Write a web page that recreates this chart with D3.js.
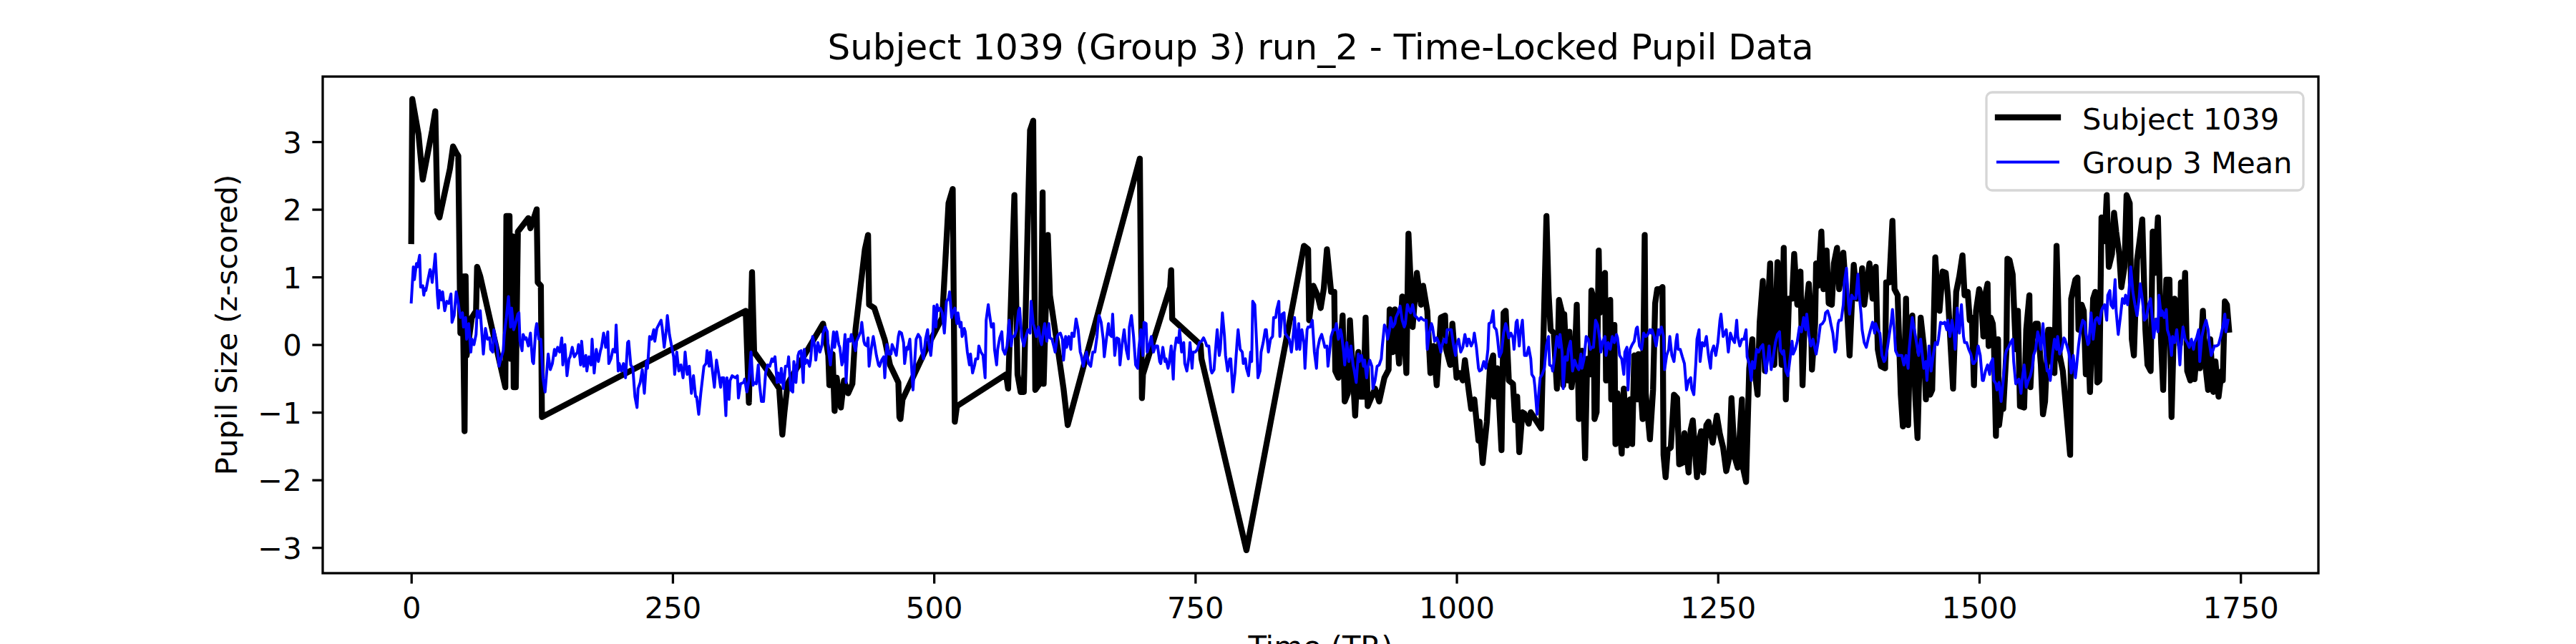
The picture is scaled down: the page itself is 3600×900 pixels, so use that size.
<html>
<head>
    <meta charset="utf-8">
    <style>
        body {
            margin: 0;
            background-color: #fff;
        }
        svg {
            display: block;
            background-color: #fff;
        }
        text {
            font-family: "DejaVu Sans";
        }
    </style>
    <script src="https://d3js.org/d3.v7.min.js"></script>
</head>
<body>

<div id="chart"></div>

<script>
    // tick values
    var xTicks = [0, 250, 500, 750, 1000, 1250, 1500, 1750];
    var yTicks = [-3, -2, -1, 0, 1, 2, 3];

    var titleText = "Subject 1039 (Group 3) run_2 - Time-Locked Pupil Data";
    var seriesNames = ["Subject 1039", "Group 3 Mean"];

    // subject trace, [TR, z]
    var subjectPoints = [
        [0,1.53],[1,3.63],[7,3.10],[11,2.44],[20,3.17],[23,3.45],[25,1.95],[27,1.88],[37,2.60],[40,2.93],[43,2.84],[45,2.79],
        [47,0.17],[49,1.01],[51,-1.28],[52,1.01],[53,-0.16],[58,0.40],[62,0.50],[63,1.15],[66,1.01],[90,-0.63],[91,1.90],
        [94,1.90],[95,-0.21],[97,1.60],[98,-0.63],[100,-0.63],[102,1.67],[112,1.87],[114,1.72],[117,1.86],[120,2.00],[121,0.92],
        [124,0.87],[125,-1.07],
        [320,0.50],[323,-0.86],[326,1.07],[328,-0.11],[341,-0.39],[352,-0.65],[355,-1.33],[357,-1.00],[360,-0.58],[392,0.26],
        [394,0.31],[399,-0.16],[400,-0.60],[403,-0.14],[405,-0.98],[407,-0.49],[411,-0.93],[414,-0.53],[418,-0.72],[422,-0.58],
        [425,0.22],[434,1.41],[437,1.62],[438,0.59],[443,0.54],[453,0.07],[458,-0.30],[466,-0.56],[467,-1.07],[468,-1.10],
        [470,-0.81],[494,-0.02],[508,0.40],[514,2.09],[518,2.30],[520,-1.14],[522,-0.91],[569,-0.44],[571,-0.65],[577,2.21],
        [580,-0.44],[583,-0.70],[586,-0.70],[590,1.95],[592,3.17],[595,3.31],[597,-0.67],[602,-0.56],[604,2.25],[605,-0.58],
        [609,1.62],[611,0.73],[619,-0.11],[624,-0.65],[628,-1.19],
        [697,2.75],[699,-0.79],[700,-0.44],[726,0.85],[727,1.10],[728,0.38],[755,0.00],[756,-0.21],[799,-3.04],[854,1.46],
        [858,1.41],[859,0.36],[863,0.87],[867,0.73],[870,0.54],[873,0.83],[876,1.41],[880,0.78],[883,0.78],[884,-0.39],
        [887,-0.49],[891,0.43],[893,-0.84],[896,-0.72],[898,0.36],[903,-1.05],[906,-0.11],[908,-0.77],[911,-0.77],[913,0.40],
        [915,-0.91],[922,-0.65],[926,-0.84],[931,-0.49],[935,-0.37],[936,0.52],[939,-0.11],[941,0.52],[945,-0.28],[948,0.71],
        [952,-0.42],[954,1.64],[958,0.26],[962,1.06],[966,0.59],[968,0.87],[972,0.50],[975,-0.42],[978,-0.02],[981,-0.60],
        [985,0.40],[989,0.43],[990,-0.07],[994,-0.30],[996,0.31],[1000,-0.49],[1003,-0.42],[1006,-0.53],[1008,-0.23],[1012,-0.72],
        [1014,-0.95],[1017,-0.81],[1021,-1.42],[1022,-1.14],[1025,-1.75],[1029,-1.14],[1032,-0.32],[1035,-0.16],[1036,-0.77],
        [1039,-0.35],[1043,-1.56],[1045,0.47],[1047,0.50],[1050,-0.53],[1054,-0.58],[1056,-1.12],[1058,-0.77],[1060,-1.59],
        [1063,-1.00],
        [1065,-1.02],[1069,-1.17],[1071,-1.00],[1076,-1.12],[1081,-1.24],[1086,1.90],[1088,0.78],[1090,0.22],[1093,0.17],
        [1096,-0.65],[1098,0.66],[1101,0.47],[1102,-0.60],[1103,0.45],[1106,-0.53],[1108,0.19],[1110,-0.63],[1113,-0.25],
        [1115,0.59],[1117,-1.10],[1119,-0.21],[1120,-0.09],[1123,-1.68],[1125,-0.21],[1128,-0.44],[1129,0.80],[1131,0.68],
        [1132,-1.10],[1134,-1.00],[1136,1.39],[1137,0.47],[1140,1.01],[1142,1.06],[1143,-0.53],[1147,0.66],[1148,-0.81],
        [1151,0.29],[1152,-1.47],[1154,-0.72],[1158,-1.61],[1160,-0.65],[1163,-1.49],[1166,-0.81],[1168,-1.47],[1170,-0.16],
        [1173,-0.81],[1174,-0.14],[1178,-1.10],[1180,1.62],[1181,-0.72],[1185,-1.40],[1188,-0.67],[1190,0.61],[1192,0.82],
        [1195,0.82],[1197,0.85],[1198,-1.63],[1200,-1.96],[1202,-1.56],[1205,-1.52],[1208,-0.74],[1211,-0.79],[1213,-1.77],
        [1216,-1.75],[1218,-1.31],[1222,-1.89],[1224,-1.26],[1226,-1.12],[1230,-1.96],[1232,-1.42],[1234,-1.28],[1236,-1.89],
        [1239,-1.19],[1241,-1.14],[1245,-1.45],[1249,-1.05],[1252,-1.33],[1255,-1.52],[1258,-1.87],[1261,-1.66],[1263,-0.79],
        [1266,-1.66],[1269,-1.82],[1273,-0.81],[1274,-1.82],[1277,-2.03],[1280,-0.35],[1283,0.08],[1284,-0.35],[1286,-0.49],
        [1288,-0.74],[1290,0.33],[1293,0.94],[1295,-0.39],[1297,0.31],[1300,1.20],[1302,-0.21],[1304,-0.30],[1307,1.22],
        [1309,0.45],[1311,-0.30],[1313,1.43],[1315,-0.81],[1318,0.68],[1321,0.68],[1323,1.34],[1326,0.59],[1329,1.08],
        [1331,-0.60],[1333,0.36],[1337,0.90],[1339,0.45],[1340,-0.37],[1343,0.31],[1344,1.20],[1346,0.87],[1349,1.67],
        [1351,0.82],[1354,1.39],[1356,0.61],[1359,0.59],[1361,1.20],[1364,1.43],[1366,0.82],[1370,1.36],[1373,0.68],
        [1376,-0.16],[1378,0.54],[1380,1.18],[1383,0.68],[1386,0.73],[1388,1.13],[1390,0.59],[1395,1.20],[1398,0.68],
        [1401,1.15],[1403,-0.07],[1406,-0.32],[1410,-0.35],[1411,0.92],[1414,0.92],[1417,1.83],[1419,0.82],[1422,0.73],
        [1425,-0.74],[1427,-1.21],[1430,0.68],[1432,-1.19],[1434,0.17],[1436,0.43],[1439,-0.81],[1441,-1.38],[1444,0.40],
        [1447,-0.02],
        [1449,-0.81],[1451,-0.25],[1453,-0.74],[1455,-0.67],[1458,1.29],[1460,0.78],[1462,0.50],[1465,1.08],[1468,1.06],
        [1470,0.73],[1473,-0.11],[1475,-0.65],[1478,0.78],[1481,1.01],[1484,1.32],[1486,0.73],[1489,0.78],[1491,0.36],
        [1493,0.40],[1495,-0.60],[1497,0.50],[1500,0.82],[1502,0.68],[1504,0.12],[1505,0.68],[1508,0.90],[1509,-0.02],
        [1511,0.40],[1513,0.31],[1514,0.08],[1516,-1.35],[1518,0.08],[1519,-1.19],[1521,-0.93],[1523,-0.95],[1526,-0.11],
        [1527,1.27],[1529,1.25],[1532,1.04],[1535,-0.07],[1537,0.50],[1539,-0.91],[1543,-0.93],[1545,0.22],[1548,0.73],
        [1549,-0.63],[1551,0.08],[1554,0.31],[1556,0.31],[1559,-0.30],[1561,-1.03],[1563,-0.84],[1566,0.22],[1568,0.22],
        [1570,-0.25],[1572,-0.42],[1574,1.46],[1577,-0.16],[1580,-0.39],[1587,-1.63],[1588,0.68],[1592,0.96],[1594,0.99],
        [1595,0.22],[1598,0.59],[1600,0.50],[1602,-0.44],[1604,0.08],[1606,-0.70],[1609,0.68],[1611,0.78],[1613,-0.56],
        [1615,-0.53],[1617,1.88],[1620,1.53],[1622,2.21],[1624,1.15],[1627,1.34],[1629,1.95],[1631,1.67],[1634,1.34],
        [1636,0.85],[1639,1.15],[1641,2.21],[1644,2.09],[1646,0.08],[1648,-0.16],[1651,1.25],[1653,1.48],[1656,1.85],
        [1659,0.22],[1661,-0.30],[1664,-0.39],[1666,1.67],[1668,1.06],[1671,1.88],[1674,0.03],[1676,-0.67],[1679,0.96],
        [1682,0.96],[1684,-1.07],[1687,0.68],[1689,0.59],[1692,0.00],[1693,0.92],[1695,0.36],[1697,1.06],[1699,-0.39],
        [1702,-0.53],[1704,-0.02],[1706,-0.51],[1709,0.05],[1711,-0.35],[1714,0.50],[1716,-0.25],[1719,-0.67],[1721,0.08],
        [1724,-0.70],[1726,-0.25],[1729,-0.77],[1732,-0.39],[1733,-0.53],[1735,0.64],[1737,0.59],[1739,0.22]
    ];

    // group mean trace, [TR, z]
    var groupPoints = [
        [0,0.63],[2,1.15],[3,0.96],[5,1.20],[6,1.15],[8,1.32],[9,0.85],[11,0.87],[12,0.73],[13,0.83],[14,0.80],[16,0.96],
        [18,1.11],[19,1.06],[20,0.92],[22,1.18],[23,1.34],[25,0.73],[26,0.54],[27,0.80],[29,0.66],[30,0.78],[32,0.50],
        [34,0.64],[36,0.61],[38,0.75],[39,0.33],[41,0.43],[43,0.78],[45,0.61],[47,0.40],[49,0.47],[50,0.26],[52,0.40],
        [53,0.08],[55,0.31],[57,-0.11],[58,0.08],[60,0.00],[62,0.15],[63,0.50],[65,0.40],[66,0.50],[68,0.08],[69,-0.14],
        [71,0.24],[73,0.08],[75,0.10],[76,-0.07],[78,-0.11],[79,0.22],[82,-0.02],[84,-0.32],[85,-0.25],[88,-0.09],[89,0.15],
        [91,0.40],[93,0.71],[95,0.26],[96,0.54],[98,0.22],[100,0.33],[102,0.45],[103,0.47],[104,0.05],[106,-0.09],[107,0.15],
        [109,0.08],[110,0.10],[112,-0.02],[114,0.17],[116,-0.25],[117,-0.28],[119,0.22],[120,0.31],[122,0.08],[124,0.08],
        [126,-0.49],[128,-0.70],[131,-0.14],[133,-0.37],[135,-0.28],[137,-0.07],[138,-0.16],[140,-0.04],[142,-0.11],[144,0.10],
        [145,-0.30],[147,0.00],[149,-0.46],[151,-0.21],[152,-0.18],[154,-0.04],[156,-0.18],[159,-0.11],[160,0.00],[162,-0.30],
        [163,0.05],[165,-0.32],[167,-0.16],[168,-0.39],[170,-0.18],[172,-0.30],[173,0.08],[175,-0.42],[177,-0.07],[179,-0.25],
        [181,-0.09],[182,-0.04],[184,0.17],[186,-0.04],[188,0.19],[189,-0.28],[191,-0.21],[193,-0.07],[195,-0.11],[196,0.29],
        [198,-0.39],[199,-0.28],[201,-0.39],[203,-0.28],[205,-0.49],[207,0.03],[208,0.05],[210,-0.30],[212,-0.35],[214,-0.77],
        [216,-0.93],[217,-0.65],[219,-0.56],[221,-0.37],[223,-0.72],[225,-0.25],[226,-0.35],[228,0.12],[230,0.08],[232,0.22],
        [233,0.05],[235,0.24],[238,0.33],[239,0.36],[240,0.26],[242,-0.04],[244,0.22],[245,0.43],[247,0.15],[249,-0.02],
        [251,-0.18],[252,-0.44],[254,-0.11],[256,-0.39],[258,-0.30],[260,-0.49],[261,-0.35],[262,-0.11],[264,-0.44],[266,-0.32],
        [268,-0.72],[270,-0.46],[272,-0.77],[273,-0.77],[275,-1.03],[277,-0.72],[280,-0.32],[282,-0.28],[283,-0.09],[285,-0.32],
        [286,-0.11],[288,-0.37],[290,-0.63],[292,-0.23],[294,-0.42],[296,-0.63],[297,-0.49],
        [299,-0.49],[301,-1.05],[302,-0.49],[304,-0.81],[305,-0.53],[307,-0.46],[310,-0.49],[312,-0.46],[313,-0.79],[315,-0.58],
        [318,-0.56],[319,-0.51],[321,-0.70],[323,-0.53],[325,-0.11],[327,-0.60],[328,-0.56],[330,-0.58],[332,-0.30],[333,-0.56],
        [335,-0.84],[337,-0.84],[339,-0.42],[341,-0.30],[343,-0.32],[345,-0.21],[346,-0.25],[348,-0.18],[350,-0.56],[351,-0.42],
        [353,-0.56],[354,-0.35],[356,-0.65],[358,-0.32],[360,-0.32],[361,-0.18],[363,-0.67],[365,-0.70],[366,-0.25],[368,-0.56],
        [370,-0.16],[371,-0.11],[373,-0.09],[375,-0.56],[376,-0.07],[377,-0.28],[379,-0.23],[381,-0.32],[382,-0.23],[384,0.12],
        [386,-0.02],[387,-0.23],[389,0.03],[391,-0.11],[393,0.00],[394,0.17],[396,0.26],[398,0.19],[399,-0.07],[401,-0.30],
        [403,0.05],[404,0.19],[405,-0.04],[407,0.19],[409,0.00],[410,-0.04],[412,-0.30],[413,-0.25],[415,0.15],[416,-0.56],
        [418,0.08],[420,0.05],[421,0.15],[423,0.03],[425,-0.09],[426,0.05],[428,0.12],[430,0.19],[431,0.33],[433,0.05],
        [434,0.00],[436,-0.02],[437,0.10],[438,-0.32],[440,-0.07],[442,0.12],[443,0.03],[445,-0.16],[447,-0.30],[448,-0.32],
        [450,-0.23],[452,-0.18],[453,-0.49],[455,0.00],[457,-0.14],[459,-0.14],[460,0.00],[462,-0.07],[464,-0.16],[466,0.12],
        [467,0.19],[469,0.17],[471,0.03],[472,-0.28],[474,-0.04],[475,-0.07],[477,0.08],[478,-0.16],[480,-0.67],[482,-0.16],
        [483,0.08],[485,0.15],[487,0.10],[488,-0.07],[490,-0.21],[492,0.08],[494,0.22],[495,0.03],[497,-0.16],[499,0.17],
        [500,0.57],[502,0.26],[503,0.59],[504,0.50],[506,0.54],[508,0.47],[510,0.17],[512,0.64],[514,0.68],[515,0.78],
        [517,0.40],[518,0.47],[520,0.54],[522,0.31],[523,0.47],[525,0.26],[526,0.33],[527,0.12],[529,0.24],[530,0.19],
        [532,-0.11],[534,-0.30],[535,-0.14],[537,-0.42],[539,-0.30],[540,-0.21],[542,-0.21],[543,-0.02],[545,-0.11],[547,-0.16],
        [549,-0.49],[550,0.36],[552,0.59],[553,0.47],[555,0.26],[557,0.31],[558,-0.07],[560,-0.30],[561,-0.07],[563,0.10],
        [565,0.19],[566,-0.07],[568,-0.14],[570,-0.02],[572,0.36],[574,-0.02],[575,0.12],[577,0.12],[579,0.22],[581,0.50],
        [582,0.54],[584,0.12],[586,-0.02],[588,0.12],[590,0.22],[592,0.17],[593,0.64],[595,0.31],[596,0.26],[598,0.12],
        [600,0.26],[602,0.05],[603,0.00],[605,0.22],[606,0.31],[608,0.05],[610,0.31],[611,0.10],[613,0.08],[615,-0.04],
        [616,-0.11],[618,0.12],[619,0.15],[621,0.17],[623,0.08],[624,-0.23],[626,0.12],[627,-0.04],[629,0.12],[631,-0.07],
        [632,0.17],[634,0.12],[636,0.38],[638,0.22],[640,-0.11],[641,-0.16],[643,-0.32],[645,-0.16],[646,-0.11],[648,-0.28],
        [650,-0.32],[652,-0.11],[654,-0.11],[656,0.12],[657,0.31],[658,0.43],[660,0.33],[662,0.08],[663,-0.18],[665,0.08],
        [667,0.31],[668,0.15],[670,0.12],[671,0.45],[673,-0.16],[675,0.10],[677,0.08],[678,-0.30],[680,0.00],
        [682,0.22],[684,-0.07],[686,-0.21],[687,0.26],[689,0.43],[691,0.12],[693,-0.30],[695,-0.35],[696,-0.07],[698,0.22],
        [700,-0.16],[701,0.33],[703,0.31],[704,-0.11],[706,-0.02],[708,0.12],[710,-0.11],[712,-0.02],[714,-0.02],[716,-0.25],
        [717,-0.28],[719,-0.04],[721,-0.25],[722,-0.21],[724,-0.35],[725,-0.28],[727,-0.02],[729,-0.51],[730,-0.11],[732,0.10],
        [734,0.03],[735,0.22],[737,-0.11],[739,0.03],[740,-0.28],[742,-0.39],[744,-0.18],[745,0.03],[747,-0.35],[748,-0.11],
        [750,-0.11],[752,-0.07],[754,0.03],[756,0.05],[758,0.10],[760,0.03],[761,-0.02],[763,-0.02],[765,-0.37],[766,-0.42],
        [768,-0.37],[769,-0.16],[771,0.22],[773,-0.16],[774,-0.07],[776,0.47],[778,0.12],[779,-0.16],[781,-0.39],[783,-0.21],
        [784,-0.21],[786,-0.70],[788,-0.42],[790,0.03],[791,0.22],[793,-0.07],[795,-0.11],[796,-0.28],[798,-0.21],[799,-0.35],
        [801,-0.46],[803,-0.11],[804,-0.25],[805,0.64],[807,0.59],[809,-0.07],[810,-0.49],[812,-0.39],[813,-0.11],[815,0.03],
        [817,0.22],[818,0.22],[820,-0.11],[822,0.08],[824,0.12],[825,0.40],[827,0.40],[828,0.52],[830,0.64],[831,0.12],
        [833,0.45],[835,0.47],[836,0.17],[838,0.12],[840,0.08],[842,-0.11],[844,0.17],[845,0.40],[847,-0.07],[849,0.31],
        [850,-0.07],[852,0.22],[854,0.03],[855,-0.35],[857,0.22],[858,0.26],[860,0.26],[862,0.36],[864,-0.11],[866,-0.35],
        [867,-0.07],[869,0.08],[871,0.15],[873,0.03],[874,-0.04],[876,-0.02],[877,-0.32],[879,-0.04],[880,0.12],[882,0.22],
        [884,0.22],[885,0.31],[887,0.08],[889,0.22],[890,0.15],[892,-0.11],[893,-0.30],[895,0.03],[897,-0.25],[899,-0.02],
        [901,-0.30],[902,-0.37],[904,-0.56],[906,-0.14],[907,-0.25],[909,-0.16],[911,-0.32],[912,-0.23],[914,-0.49],[915,-0.35],
        [917,-0.23],[919,-0.32],[920,-0.65],[922,-0.53],[924,-0.32],[926,-0.30],[928,-0.21],[929,-0.02],[931,0.29],[933,0.22],
        [934,0.08],[936,0.22],[937,0.40],[939,0.26],[941,0.31],[942,0.40],[944,0.47],[946,0.57],[948,0.36],[950,0.26],
        [951,0.31],[953,0.59],[955,0.50],[956,0.47],[958,0.59],[960,0.43],[962,0.40],[964,0.36],[966,0.40],[967,0.38],
        [969,0.36],[971,0.36],[972,-0.07],[974,0.17],[976,0.31],[977,0.26],[979,0.05],[981,0.10],[983,0.03],[985,-0.11],
        [986,-0.02],[988,0.08],[990,0.03],[991,0.22],[993,0.22],[995,0.22],[997,0.00],[999,-0.16],[1000,0.00],[1002,0.08],
        [1004,-0.11],[1006,-0.04],[1008,0.15],[1010,-0.02],[1011,0.08],[1012,0.08],[1014,-0.02],[1016,0.05],[1017,0.17],
        [1019,-0.04],[1021,-0.35],[1022,-0.39],[1024,-0.37],[1026,-0.25],[1028,-0.35],[1030,-0.07],[1031,0.31],[1033,0.33],
        [1035,0.50],[1036,0.26],[1038,0.22],[1039,0.12],[1041,-0.18],[1043,-0.11],[1045,0.17],[1047,0.31],[1048,0.26],
        [1050,0.10],[1052,0.17],[1054,0.10],[1055,-0.07],[1057,0.33],[1058,0.36],[1060,-0.02],[1061,0.17],[1063,0.36],[1065,-0.16],
        [1067,-0.16],[1069,-0.04],[1071,-0.21],[1072,-0.44],[1074,-0.49],[1075,-0.63],[1077,-1.03],[1079,-0.65],[1080,-0.49],
        [1082,-0.44],[1084,-0.35],[1086,-0.02],[1088,0.12],[1089,-0.30],[1091,-0.32],[1092,-0.39],[1094,-0.16],[1096,0.12],
        [1098,-0.04],[1099,0.15],[1101,-0.11],[1102,-0.65],[1104,-0.18],[1106,-0.23],[1107,-0.07],[1109,0.05],[1111,-0.39],
        [1113,-0.23],[1115,-0.32],[1117,-0.37],[1119,-0.14],[1120,-0.35],[1122,-0.21],[1124,0.12],[1126,0.08],[1128,-0.07],
        [1129,-0.04],[1131,-0.04],[1133,0.36],[1135,0.29],[1137,0.08],[1138,-0.11],[1140,0.05],[1142,0.12],[1143,-0.16],
        [1145,0.03],[1147,-0.07],[1149,0.12],[1151,0.03],[1153,0.15],[1154,0.10],[1156,-0.16],[1158,-0.21],[1160,-0.44],
        [1161,-0.11],[1163,-0.04],[1164,-0.67],[1166,-0.07],[1168,0.00],[1170,0.05],[1172,0.24],[1173,0.26],[1175,-0.02],
        [1177,-0.07],[1179,0.17],[1181,0.12],[1183,0.15],[1185,0.22],[1186,0.17],[1187,0.22],[1189,0.12],[1191,-0.02],
        [1193,0.22],[1194,0.15],[1196,0.26],[1198,0.12],[1199,-0.37],[1201,-0.16],[1203,-0.07],[1204,0.12],[1206,-0.16],
        [1208,-0.25],[1210,0.05],[1211,0.15],[1212,-0.07],[1214,-0.07],[1216,-0.18],[1218,-0.28],[1220,-0.67],[1222,-0.53],
        [1224,-0.49],[1225,-0.65],[1227,-0.74],[1229,-0.25],[1230,0.08],[1232,0.22],[1233,-0.25],[1235,0.03],[1237,-0.02],
        [1239,0.12],[1241,-0.16],[1243,-0.35],[1244,-0.11],[1246,-0.02],[1248,-0.16],[1250,0.03],[1252,0.36],[1253,0.45],
        [1255,0.12],[1256,0.15],[1258,0.22],[1260,-0.11],[1262,0.17],[1264,0.08],[1266,0.03],[1268,0.36],[1269,0.12],
        [1271,-0.02],[1273,0.08],[1275,0.08],[1277,0.22],[1278,-0.18],[1280,-0.28],[1282,-0.53],[1283,-0.25],[1285,-0.35],
        [1287,-0.07],[1289,-0.11],[1291,-0.04],[1293,0.00],[1295,-0.30],[1296,-0.42],[1298,-0.16],[1299,-0.02],[1301,-0.37],
        [1303,-0.18],[1305,0.03],[1307,0.15],[1309,0.19],[1310,-0.09],[1312,-0.14],[1313,-0.09],[1315,-0.39],[1317,-0.46],
        [1319,-0.21],[1321,0.05],[1322,-0.14],[1324,-0.07],[1326,0.05],[1328,0.26],[1330,0.19],[1332,0.40],[1334,0.22],
        [1335,0.45],[1337,0.15],[1339,-0.02],[1341,0.08],[1343,-0.07],[1344,-0.14],[1346,0.05],[1348,0.29],[1350,0.31],
        [1352,0.36],[1353,0.47],[1355,0.50],[1357,0.40],[1358,0.31],[1360,0.17],[1362,-0.11],[1363,-0.07],[1365,0.31],
        [1366,0.36],[1368,0.36],[1370,0.59],[1371,0.92],[1373,1.13],[1375,0.61],[1376,0.45],[1378,0.73],[1380,0.68],
        [1382,0.68],[1384,1.04],[1385,0.78],[1387,0.45],[1388,0.22],[1390,0.03],[1392,-0.04],[1394,0.10],[1396,0.22],
        [1398,0.33],[1400,0.17],[1401,0.31],[1403,0.22],[1405,0.17],[1407,-0.16],[1409,-0.25],[1410,-0.23],[1412,-0.07],
        [1414,0.15],[1416,0.36],[1417,0.52],[1419,0.17],[1420,-0.09],[1422,-0.16],[1424,-0.16],[1426,-0.16],[1428,-0.30],
        [1430,-0.16],[1432,-0.35],[1433,-0.07],[1435,0.26],[1436,0.40],[1438,0.22],[1440,0.03],[1442,-0.16],[1444,0.08],
        [1445,-0.07],[1447,-0.35],[1449,-0.25],
        [1450,-0.53],[1452,-0.02],[1454,-0.39],[1456,-0.16],[1458,0.03],[1460,0.00],[1461,0.08],[1463,0.33],[1465,0.31],
        [1467,0.33],[1469,0.22],[1470,0.36],[1472,0.12],[1474,0.36],[1476,0.15],[1477,-0.07],[1479,0.54],[1481,0.17],
        [1483,0.59],[1485,0.12],[1486,0.03],[1488,0.03],[1490,-0.07],[1492,-0.14],[1494,-0.28],[1495,-0.28],[1497,-0.23],
        [1499,-0.02],[1501,-0.16],[1503,-0.53],[1504,-0.53],[1506,-0.39],[1508,-0.30],[1510,-0.44],[1511,-0.28],[1513,-0.21],
        [1514,-0.53],[1516,-0.58],[1517,-0.67],[1519,-0.56],[1521,-0.84],[1523,-0.53],[1525,-0.16],[1526,-0.09],[1528,-0.04],
        [1530,0.03],[1532,0.08],[1533,-0.25],[1535,-0.58],[1537,-0.53],[1538,-0.51],[1540,-0.72],[1541,-0.53],[1543,-0.30],
        [1545,-0.63],[1547,-0.53],[1549,-0.46],[1551,-0.32],[1552,-0.16],[1554,-0.07],[1556,0.19],[1557,0.12],[1559,-0.07],
        [1561,0.31],[1563,-0.16],[1565,-0.39],[1566,-0.37],[1568,-0.53],[1570,-0.16],[1572,0.08],[1574,-0.07],[1575,0.12],
        [1577,-0.14],[1579,-0.07],[1581,0.10],[1582,0.08],[1584,-0.02],[1586,-0.14],[1588,-0.42],[1590,-0.16],[1592,-0.49],
        [1593,-0.35],[1595,-0.02],[1597,0.22],[1599,0.36],[1601,0.33],[1602,0.17],[1604,0.00],[1605,0.03],[1607,0.47],
        [1609,0.08],[1611,0.36],[1613,0.40],[1615,0.31],[1617,0.50],[1618,0.54],[1620,0.59],[1622,0.36],[1623,0.73],
        [1625,0.80],[1626,0.59],[1628,0.54],[1630,0.96],[1631,0.50],[1633,0.15],[1635,0.40],[1637,0.68],[1639,0.61],
        [1640,0.73],[1642,0.59],[1644,0.92],[1645,1.15],[1647,0.78],[1649,0.59],[1651,0.43],[1653,0.68],[1654,0.90],
        [1656,0.68],[1658,0.36],[1660,0.40],[1662,0.59],[1664,0.68],[1666,0.31],[1667,0.10],[1669,0.38],[1671,0.19],
        [1672,0.73],[1674,0.43],[1675,0.50],[1677,0.40],[1679,0.52],[1680,0.22],[1682,0.12],[1684,-0.16],[1685,0.12],
        [1687,0.03],[1689,0.22],[1691,-0.07],[1692,-0.30],[1693,-0.04],[1695,0.26],[1697,0.08],[1699,0.03],[1701,-0.04],
        [1703,0.08],[1705,-0.07],[1706,0.03],[1708,0.10],[1710,0.22],[1711,-0.25],[1713,0.12],[1715,0.26],[1717,0.36],
        [1719,0.22],[1720,0.05],[1722,-0.16],[1724,-0.07],[1725,-0.02],[1727,-0.02],[1729,0.00],[1731,0.12],[1733,0.26],
        [1735,0.45],[1736,0.19],[1738,0.36]
    ];

    var width = 3600, height = 900;
    var plotLeft = 451, plotRight = 3240, plotTop = 107, plotBottom = 801;

    var svg = d3.select("#chart").append("svg")
        .attr("width", width)
        .attr("height", height);

    var x = d3.scaleLinear().domain([-84.7, 1824.5]).range([plotLeft, plotRight]);
    var y = d3.scaleLinear().domain([-3.379, 3.963]).range([plotBottom, plotTop]);

    // title
    svg.append("text")
        .attr("x", (plotLeft + plotRight) / 2)
        .attr("y", 83)
        .attr("text-anchor", "middle")
        .style("font-size", "50px")
        .text(titleText);

    // clip for the traces
    svg.append("clipPath").attr("id", "plotclip")
        .append("rect")
        .attr("x", plotLeft).attr("y", plotTop)
        .attr("width", plotRight - plotLeft).attr("height", plotBottom - plotTop);

    var line = d3.line()
        .x(function (d) { return x(d[0]); })
        .y(function (d) { return y(d[1]); });

    var traces = svg.append("g").attr("clip-path", "url(#plotclip)");

    traces.append("path")
        .datum(subjectPoints)
        .attr("d", line)
        .attr("fill", "none")
        .attr("stroke", "#000")
        .attr("stroke-width", 8.3)
        .attr("stroke-linejoin", "round")
        .attr("stroke-linecap", "square");

    traces.append("path")
        .datum(groupPoints)
        .attr("d", line)
        .attr("fill", "none")
        .attr("stroke", "#0000ff")
        .attr("stroke-width", 4)
        .attr("stroke-linejoin", "round")
        .attr("stroke-linecap", "square");

    // axes (plain integers, no thousands separator)
    var tickFmt = d3.format("d");

    var xAxis = svg.append("g")
        .attr("transform", "translate(0," + plotBottom + ")")
        .call(d3.axisBottom(x).tickValues(xTicks).tickFormat(tickFmt).tickSize(14.6).tickPadding(14.6));

    var yAxis = svg.append("g")
        .attr("transform", "translate(" + plotLeft + ",0)")
        .call(d3.axisLeft(y).tickValues(yTicks).tickFormat(tickFmt).tickSize(14.6).tickPadding(14.6));

    [xAxis, yAxis].forEach(function (g) {
        g.select(".domain").remove();
        g.selectAll(".tick line").attr("stroke", "#000").attr("stroke-width", 3.3);
        g.selectAll(".tick text")
            .attr("fill", "#000")
            .style("font-family", "DejaVu Sans")
            .style("font-size", "41.7px");
    });
    xAxis.selectAll(".tick text").attr("dy", "0.8em");
    yAxis.selectAll(".tick text").attr("dy", "0.36em");

    // frame
    svg.append("rect")
        .attr("x", plotLeft).attr("y", plotTop)
        .attr("width", plotRight - plotLeft).attr("height", plotBottom - plotTop)
        .attr("fill", "none")
        .attr("stroke", "#000")
        .attr("stroke-width", 3.3);

    // axis labels
    svg.append("text")
        .attr("x", (plotLeft + plotRight) / 2)
        .attr("y", 918)
        .attr("text-anchor", "middle")
        .style("font-size", "41.7px")
        .text("Time (TR)");

    svg.append("text")
        .attr("transform", "translate(331," + (plotTop + plotBottom) / 2 + ") rotate(-90)")
        .attr("text-anchor", "middle")
        .style("font-size", "41.7px")
        .text("Pupil Size (z-scored)");

    // legend
    var legend = svg.append("g");
    legend.append("rect")
        .attr("x", 2776).attr("y", 129)
        .attr("width", 443).attr("height", 137)
        .attr("rx", 8).attr("ry", 8)
        .attr("fill", "#fff").attr("fill-opacity", 0.8)
        .attr("stroke", "#cccccc").attr("stroke-opacity", 0.8)
        .attr("stroke-width", 3.3);

    var legendRows = [
        { name: seriesNames[0], color: "#000", width: 8.3, y: 164, ty: 180.5 },
        { name: seriesNames[1], color: "#0000ff", width: 4, y: 226.5, ty: 242 }
    ];
    legendRows.forEach(function (r) {
        legend.append("line")
            .attr("x1", 2792).attr("x2", 2876)
            .attr("y1", r.y).attr("y2", r.y)
            .attr("stroke", r.color)
            .attr("stroke-width", r.width)
            .attr("stroke-linecap", "square");
        legend.append("text")
            .attr("x", 2910).attr("y", r.ty)
            .style("font-size", "41.7px")
            .text(r.name);
    });
</script>

</body>
</html>
